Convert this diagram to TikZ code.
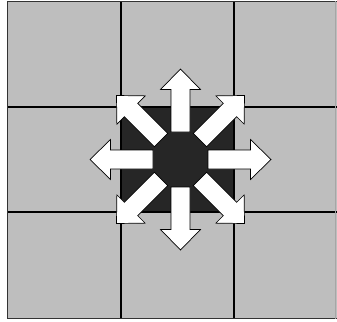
\documentclass[tikz,border=0pt]{standalone}
\definecolor{cellgrey}{HTML}{BEBEBE}
\definecolor{darkcore}{HTML}{262626}
\tikzset{
  cellline/.style={draw=black, line width=1.1pt},
  outerline/.style={draw=black!80, line width=1.8pt},
  arrowshape/.style={fill=white, draw=black, line width=0.7pt, line join=miter},
}
\begin{document}
\begin{tikzpicture}[x=1pt,y=-1pt]
\useasboundingbox (0,0) rectangle (337,321);
\fill[white] (0,0) rectangle (337,321);
% grey field
\fill[cellgrey] (7.5,1.5) rectangle (337,318.5);
% dark centre cell
\fill[darkcore] (121,107) rectangle (234,212);
% grid lines
\draw[cellline] (121,1.5) -- (121,318.5);
\draw[cellline] (234,1.5) -- (234,318.5);
\draw[cellline] (7.5,107) -- (337,107);
\draw[cellline] (7.5,212) -- (337,212);
% outer frame
\draw[outerline] (337,1.5) -- (7.5,1.5) -- (7.5,318.5) -- (337,318.5);
\draw[draw=black!35, line width=0.6pt] (335.7,1.5) -- (335.7,318.5);
% arrows
\coordinate (c) at (180.5,159.5);
\foreach \a in {0,45,...,315}{
  \draw[arrowshape, shift={(c)}, rotate=\a]
    (27.5,-9.5) -- (70,-9.5) -- (70,-20) -- (90.5,0) -- (70,20) -- (70,9.5) -- (27.5,9.5) -- cycle;
}
\end{tikzpicture}
\end{document}
